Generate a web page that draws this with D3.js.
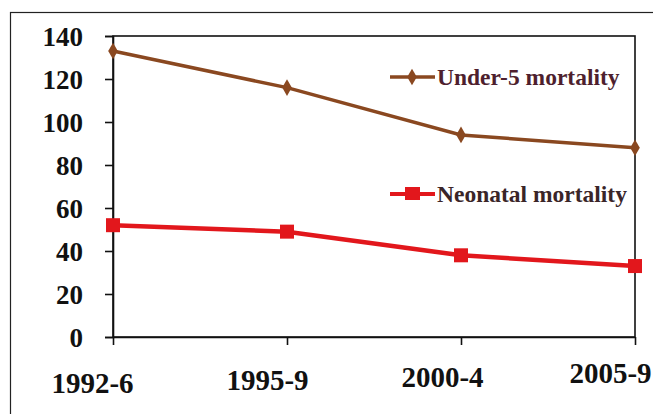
<!DOCTYPE html>
<html>
<head>
<meta charset="utf-8">
<script src="https://cdn.jsdelivr.net/npm/d3@7"></script>
<style>
  body { margin: 0; background: #fff; }
  svg { display: block; }
  text { font-family: "Liberation Serif", "Times New Roman", serif; font-weight: bold; }
</style>
</head>
<body>
<svg></svg>
<script>
// Chart data
let periods = ['1992-6', '1995-9', '2000-4', '2005-9'];
let under5 = [133, 116, 94, 88];
let neonatal = [52, 49, 38, 33];
let yTicks = [0, 20, 40, 60, 80, 100, 120, 140];

let width = 653;
let height = 414;
let plotLeft = 113, plotRight = 635, plotTop = 36, plotBottom = 337;

let svg = d3.select('svg').attr('width', width).attr('height', height);

// Outer frame
svg.append('rect')
    .attr('x', 10.5).attr('y', 12.5)
    .attr('width', 660).attr('height', 420)
    .attr('fill', 'none').attr('stroke', '#222').attr('stroke-width', 1.2);

let xScale = d3.scalePoint().domain(periods).range([plotLeft, plotRight]);
let yScale = d3.scaleLinear().domain([0, 140]).range([plotBottom, plotTop]);

// Plot box
svg.append('rect')
    .attr('x', plotLeft).attr('y', plotTop)
    .attr('width', plotRight - plotLeft).attr('height', plotBottom - plotTop)
    .attr('fill', 'none').attr('stroke', '#111').attr('stroke-width', 1.6);

// Y axis
let yAxis = svg.append('g')
    .attr('transform', 'translate(' + plotLeft + ',0)')
    .call(d3.axisLeft(yScale).tickValues(yTicks).tickSize(8).tickPadding(22));
yAxis.select('.domain').attr('stroke', '#111').attr('stroke-width', 1.6);
yAxis.selectAll('line').attr('stroke', '#111').attr('stroke-width', 1.6);
yAxis.selectAll('text')
    .attr('font-size', 27).attr('fill', '#111')
    .attr('dy', '0.34em');

// X axis (labels sit a bit left of their ticks, last one nudged up)
let xLabelY = [56, 53, 50, 46];
let xLabelDx = [-21, -20, -19, -25];
let xAxis = svg.append('g')
    .attr('transform', 'translate(0,' + plotBottom + ')')
    .call(d3.axisBottom(xScale).tickSize(8).tickSizeOuter(0));
xAxis.select('.domain').attr('stroke', '#111').attr('stroke-width', 1.6);
xAxis.selectAll('line').attr('stroke', '#111').attr('stroke-width', 1.6);
xAxis.selectAll('text')
    .attr('font-size', 29).attr('fill', '#111')
    .attr('dx', (d, i) => xLabelDx[i])
    .attr('dy', 0)
    .attr('y', (d, i) => xLabelY[i]);

// Lines
let line = d3.line()
    .x((d, i) => xScale(periods[i]))
    .y(d => yScale(d));

let brown = '#8a4820';
let red = '#e2171c';

svg.append('path').datum(under5)
    .attr('d', line).attr('fill', 'none')
    .attr('stroke', brown).attr('stroke-width', 3.5);

svg.append('path').datum(neonatal)
    .attr('d', line).attr('fill', 'none')
    .attr('stroke', red).attr('stroke-width', 4.5);

// Markers
let diamond = d3.symbol().type(d3.symbolDiamond).size(80);
svg.selectAll('.u5')
    .data(under5).enter().append('path')
    .attr('class', 'u5')
    .attr('d', diamond)
    .attr('transform', (d, i) => 'translate(' + xScale(periods[i]) + ',' + yScale(d) + ')')
    .attr('fill', brown);

svg.selectAll('.neo')
    .data(neonatal).enter().append('rect')
    .attr('class', 'neo')
    .attr('x', (d, i) => xScale(periods[i]) - 7)
    .attr('y', d => yScale(d) - 7)
    .attr('width', 14).attr('height', 14)
    .attr('fill', red);

// Legend
let legend = [
    { name: 'Under-5 mortality', color: brown, text: '#4e1f2e', y: 77, shape: 'diamond', w: 3.5 },
    { name: 'Neonatal mortality', color: red, text: '#3a2528', y: 194, shape: 'square', w: 4 }
];
legend.forEach(item => {
    svg.append('line')
        .attr('x1', 390).attr('x2', 435)
        .attr('y1', item.y).attr('y2', item.y)
        .attr('stroke', item.color).attr('stroke-width', item.w);
    if (item.shape === 'diamond') {
        svg.append('path').attr('d', diamond)
            .attr('transform', 'translate(412,' + item.y + ')')
            .attr('fill', item.color);
    } else {
        svg.append('rect')
            .attr('x', 405).attr('y', item.y - 7)
            .attr('width', 15).attr('height', 13)
            .attr('fill', item.color);
    }
    svg.append('text')
        .attr('x', 437).attr('y', item.y + 8)
        .attr('font-size', 23.5)
        .attr('fill', item.text)
        .text(item.name);
});
</script>
</body>
</html>
